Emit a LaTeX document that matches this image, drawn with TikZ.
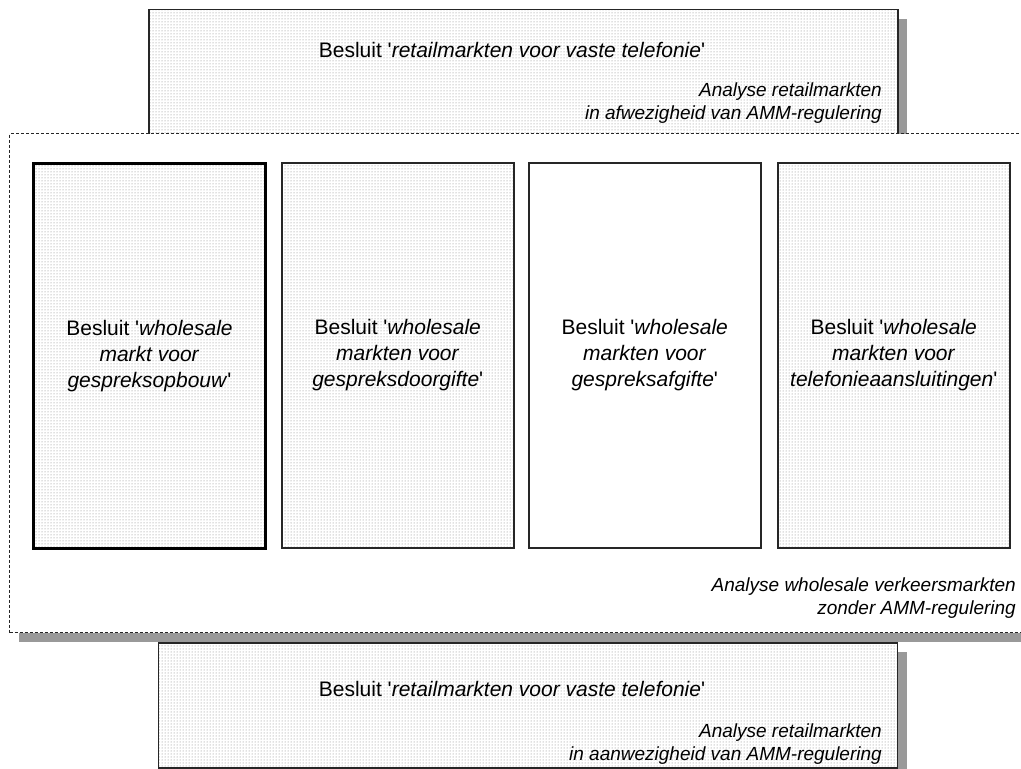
\documentclass[tikz,border=0pt]{standalone}
\usepackage{fontspec}
\setmainfont{Liberation Sans}[Ligatures=TeXOff]
\usetikzlibrary{patterns,shadows}
\begin{document}
\begin{tikzpicture}[x=1pt,y=-1pt,
  boxshadow/.style={general shadow={fill=black!40, shadow xshift=9.5pt, shadow yshift=-9.5pt}},
  dotfill/.style={preaction={fill=white}, pattern=dots, pattern color=black!50},
  retailbox/.style={boxshadow, dotfill, draw=black!85, line width=1.5pt,
    rectangle, inner sep=0pt, anchor=north west},
  wholesalearea/.style={boxshadow, fill=white, draw=black!85, line width=1pt,
    dash pattern=on 3pt off 2pt, rectangle, inner sep=0pt, anchor=north west},
  decision/.style={rectangle, inner sep=0pt, anchor=north west,
    minimum width=232pt, minimum height=385pt, draw=black!85, line width=1.5pt,
    align=center, font=\fontsize{21}{26}\selectfont},
  maintext/.style={inner sep=0pt, font=\fontsize{21}{26}\selectfont},
  note/.style={inner sep=0pt, anchor=east, align=right,
    font=\fontsize{19}{23}\selectfont\itshape}
]
\useasboundingbox (0,0) rectangle (1021,769);
\clip (0,0) rectangle (1021,769);

% retail decision, analysis without SMP regulation
\node[retailbox, minimum width=749pt, minimum height=135pt] (retailtop) at (148,8.5) {};
\node[maintext] (toptitle) at (512,50) {Besluit '\textit{retailmarkten voor vaste telefonie}'};
\node[note] (topnote) at (882,103.5) {Analyse retailmarkten\\in afwezigheid van AMM-regulering};

% retail decision, analysis with SMP regulation
\node[retailbox, minimum width=739pt, minimum height=125pt] (retailbottom) at (157.5,642) {};
\node[maintext] (bottomtitle) at (512,689) {Besluit '\textit{retailmarkten voor vaste telefonie}'};
\node[note] (bottomnote) at (882,744.5) {Analyse retailmarkten\\in aanwezigheid van AMM-regulering};

% wholesale traffic market analysis
\node[wholesalearea, minimum width=1040pt, minimum height=499pt] (wholesale) at (9,133) {};
\node[note] (wholesalenote) at (1016,598.5) {Analyse wholesale verkeersmarkten\\zonder AMM-regulering};

% the four wholesale decisions
\node[decision, dotfill, line width=3pt, draw=black] (origination) at (32,162)
  {Besluit '\textit{wholesale}\\\textit{markt voor}\\\textit{gespreksopbouw}'};
\node[decision, dotfill] (transit) at (281,162)
  {Besluit '\textit{wholesale}\\\textit{markten voor}\\\textit{gespreksdoorgifte}'};
\node[decision, fill=white] (termination) at (528,162)
  {Besluit '\textit{wholesale}\\\textit{markten voor}\\\textit{gespreksafgifte}'};
\node[decision, dotfill] (access) at (777,162)
  {Besluit '\textit{wholesale}\\\textit{markten voor}\\\textit{telefonieaansluitingen}'};
\end{tikzpicture}
\end{document}
